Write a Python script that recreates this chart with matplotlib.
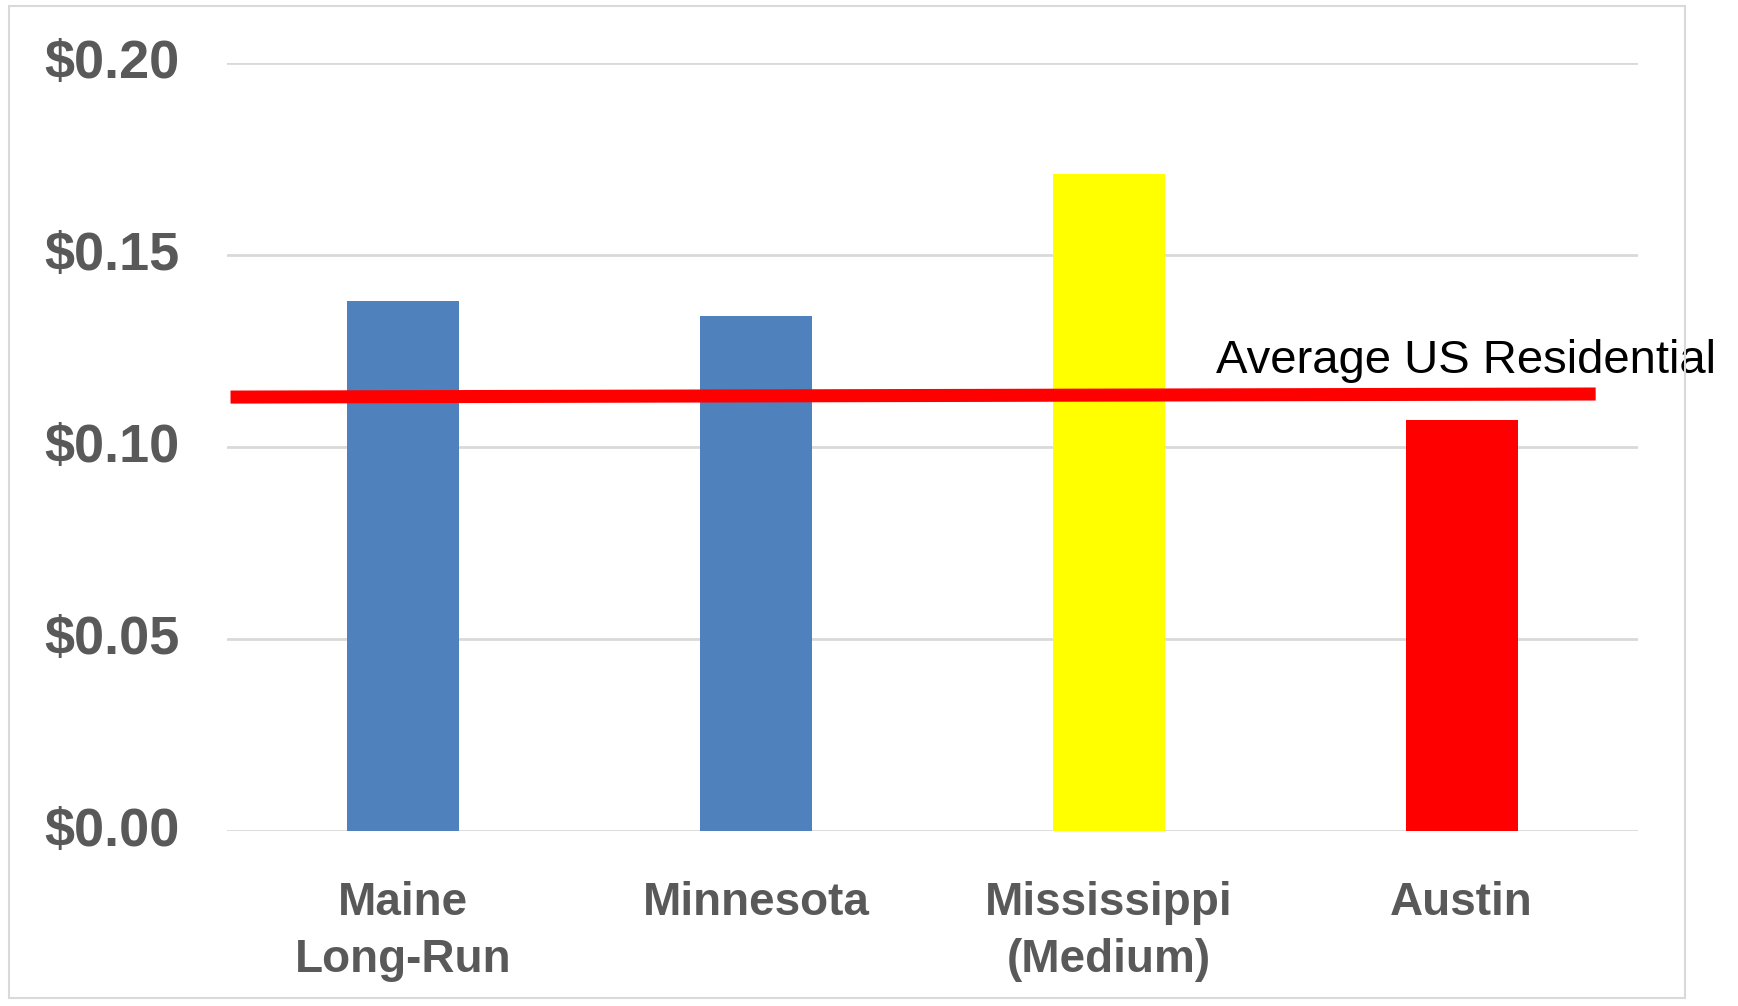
import matplotlib
matplotlib.use("Agg")
import matplotlib.pyplot as plt
from matplotlib.patches import Rectangle
from matplotlib.transforms import ScaledTranslation

categories = ["Maine\nLong-Run", "Minnesota", "Mississippi\n(Medium)", "Austin"]
values = [0.138, 0.134, 0.171, 0.107]
bar_colors = ["#4f81bd", "#4f81bd", "#ffff00", "#ff0000"]
yticks = [0.00, 0.05, 0.10, 0.15, 0.20]
ytick_labels = ["$0.00", "$0.05", "$0.10", "$0.15", "$0.20"]
avg_label = "Average US Residential"
avg_values = [0.1130, 0.1138]   # left end, right end
avg_x = [-0.49, 3.38]

fig = plt.figure(figsize=(17.38, 10.06), dpi=100)
fig.patch.set_facecolor("white")

# outer chart border
fig.patches.append(Rectangle((9/1738, 1 - 998/1006), (1685 - 9)/1738, (998 - 6)/1006,
                             transform=fig.transFigure, fill=False,
                             edgecolor="#d9d9d9", linewidth=1.5))

ax = fig.add_axes([227/1738, 1 - 831/1006, (1638 - 227)/1738, (831 - 63)/1006])
x = list(range(len(categories)))
ax.bar(x, values, width=0.318, color=bar_colors, zorder=3)
ax.set_xlim(-0.5, 3.5)
ax.set_ylim(0, 0.2)
ax.set_yticks(yticks)
ax.set_yticklabels(ytick_labels)
ax.set_xticks(x)
ax.set_xticklabels(categories)
for s in ax.spines.values():
    s.set_visible(False)
ax.grid(axis="y", color="#d9d9d9", linewidth=2, zorder=0)
ax.tick_params(axis="both", length=0)
ax.tick_params(axis="y", pad=34)
ax.tick_params(axis="x", pad=36)
up = ScaledTranslation(0, 4/100, fig.dpi_scale_trans)
for lab in ax.get_yticklabels():
    lab.set_fontfamily("Liberation Sans")
    lab.set_fontweight("bold")
    lab.set_fontsize(39)
    lab.set_color("#595959")
    lab.set_transform(lab.get_transform() + up)
for lab in ax.get_xticklabels():
    lab.set_fontfamily("Liberation Sans")
    lab.set_fontweight("bold")
    lab.set_fontsize(33)
    lab.set_color("#595959")
    lab.set_linespacing(1.38)

ax.plot(avg_x, avg_values, color="#ff0000", linewidth=9.4, solid_capstyle="butt",
        zorder=4, clip_on=False)
ax.text(2.303, 0.1193, avg_label, fontsize=34, fontfamily="Liberation Sans",
        color="black", ha="left", va="baseline", clip_on=False, zorder=5)

fig.savefig("out.png", dpi=100, facecolor="white")
